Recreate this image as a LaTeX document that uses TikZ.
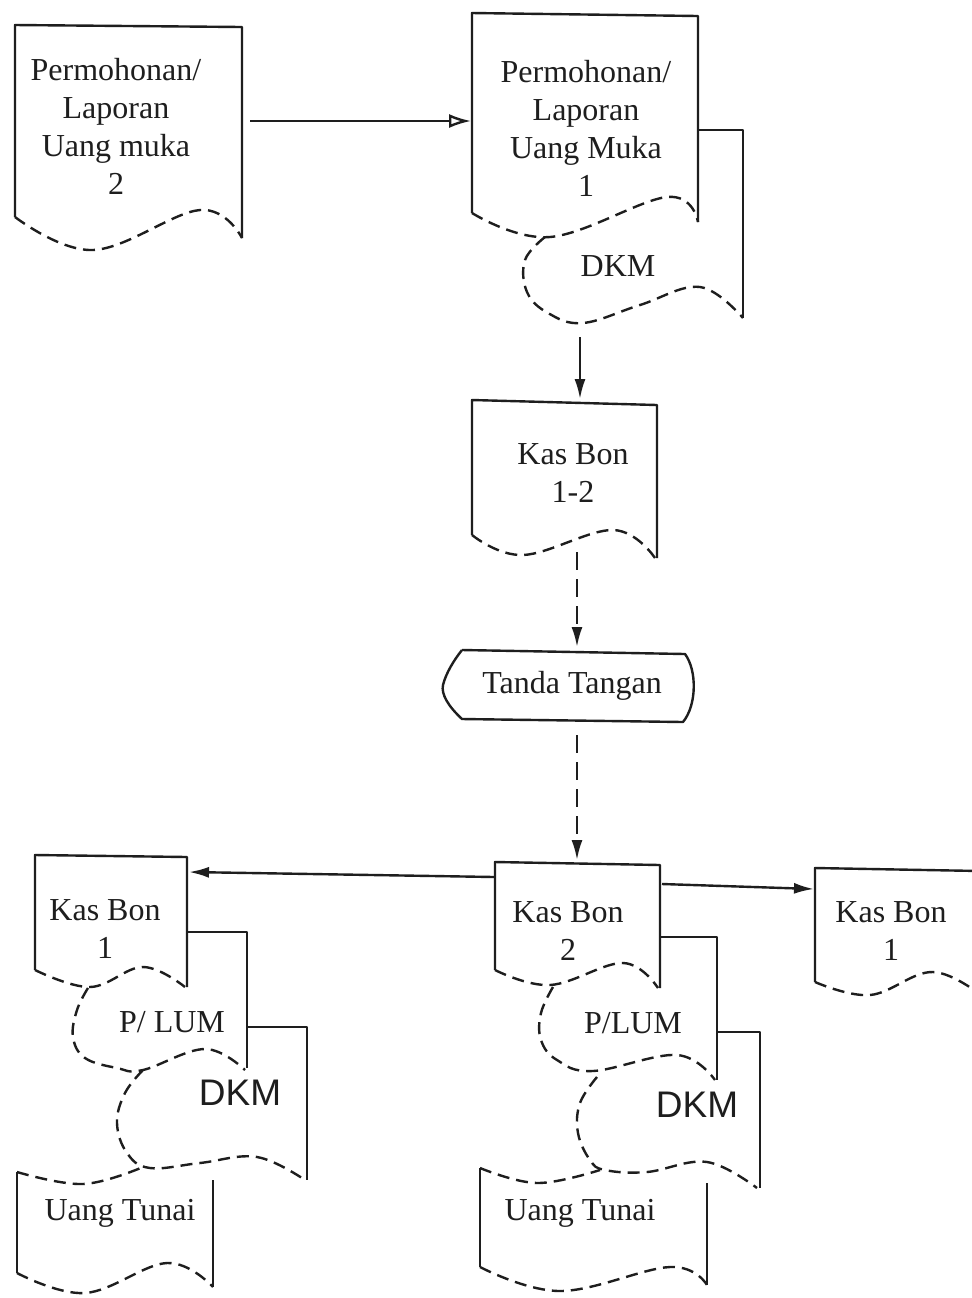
\documentclass[tikz,border=0pt]{standalone}
\usepackage{fontspec}
\setmainfont{Liberation Serif}
\newfontfamily\dkmfont{Liberation Sans}
\usetikzlibrary{arrows.meta}
\definecolor{ink}{RGB}{30,30,30}
\begin{document}
\begin{tikzpicture}[x=0.5pt,y=-0.5pt,
  ln/.style={line width=1.2pt, draw=ink, line join=round},
  dsh/.style={ln, dash pattern=on 6pt off 3.5pt},
  cdsh/.style={dash pattern=on 9pt off 4.5pt},
  txt/.style={font=\fontsize{16}{19}\selectfont, text=ink, align=center, inner sep=0pt},
  dkmtxt/.style={font=\dkmfont\fontsize{18.5}{20}\selectfont, text=ink, inner sep=0pt},
  arr/.style={ln, -{Latex[length=10pt,width=5.5pt]}},
  openarr/.style={ln, -{Latex[open,length=11pt,width=7pt]}},
  wv/.style={dsh, smooth, tension=0.65}
]
\useasboundingbox (0,0) rectangle (971,1298);
\fill[white] (0,0) rectangle (971,1298);

% ---------- Doc 1: Permohonan/Laporan Uang muka 2
\draw[ln] (15,217) -- (15,25) -- (242,27) -- (242,238);
\draw[wv] plot coordinates {(15,217) (93,250) (200,210) (242,238)};
\node[txt] (d1t) at (116,126) {Permohonan/\\Laporan\\Uang muka\\2};

% ---------- Doc 2: Permohonan/Laporan Uang Muka 1 with DKM behind
\draw[ln] (698,130) -- (743,130) -- (743,318);
\draw[wv] plot coordinates {(545,237) (525,260) (527,292) (548,313) (583,323) (640,305) (700,287) (743,318)};
\draw[ln] (472,213) -- (472,13) -- (698,16) -- (698,222);
\draw[wv] plot coordinates {(472,213) (550,237) (667,197) (698,222)};
\node[txt] (d2t) at (586,128) {Permohonan/\\Laporan\\Uang Muka\\1};
\node[txt] (dkmt) at (618,266) {DKM};

% ---------- Kas Bon 1-2
\draw[ln] (472,535) -- (472,400) -- (657,405) -- (657,558);
\draw[wv] plot coordinates {(472,535) (523,555) (613,530) (655,558)};
\node[txt] (kb12) at (573,473) {Kas Bon\\1-2};

% ---------- Tanda Tangan
\draw[ln] (462,650) -- (685,654) .. controls (697,670) and (697,705) .. (683,722)
  -- (462,719) .. controls (448,706) and (441,694) .. (443,685)
  .. controls (446,673) and (454,660) .. (462,650);
\node[txt] (tt) at (572,686) {Tanda Tangan};

% ---------- Bottom left group
\draw[ln] (187,932) -- (247,932) -- (247,1068);
\draw[ln] (247,1027) -- (307,1027) -- (307,1180);
\draw[ln] (35,970) -- (35,855) -- (187,857) -- (187,987);
\draw[wv] plot coordinates {(35,970) (90,987) (143,967) (185,987)};
\draw[wv] plot coordinates {(88,988) (77,1010) (73,1037) (85,1058) (117,1068) (143,1070) (205,1049) (245,1070)};
\draw[wv] plot coordinates {(143,1070) (125,1093) (117,1123) (127,1153) (150,1168) (200,1163) (257,1157) (305,1180)};
\draw[ln] (17,1172) -- (17,1273);
\draw[ln] (213,1180) -- (213,1287);
\draw[wv] plot coordinates {(17,1172) (83,1184) (143,1167)};
\draw[wv] plot coordinates {(17,1273) (85,1293) (167,1263) (213,1287)};
\node[txt] (kbl) at (105,929) {Kas Bon\\1};
\node[txt] (pluml) at (172,1022) {P/ LUM};
\node[dkmtxt] (dkml) at (240,1093) {DKM};
\node[txt] (utl) at (120,1213) {Uang Tunai};

% ---------- Bottom middle group
\draw[ln] (660,937) -- (717,937) -- (717,1080);
\draw[ln] (717,1032) -- (760,1032) -- (760,1188);
\draw[ln] (495,970) -- (495,862) -- (660,865) -- (660,988);
\draw[wv] plot coordinates {(495,970) (550,985) (623,963) (658,988)};
\draw[wv] plot coordinates {(553,987) (541,1013) (541,1040) (557,1060) (593,1071) (677,1055) (715,1080)};
\draw[wv] plot coordinates {(597,1077) (580,1103) (578,1133) (590,1160) (605,1170) (647,1172) (707,1162) (757,1188)};
\draw[ln] (480,1168) -- (480,1267);
\draw[ln] (707,1183) -- (707,1285);
\draw[wv] plot coordinates {(480,1168) (537,1183) (600,1170)};
\draw[wv] plot coordinates {(480,1267) (560,1291) (670,1267) (707,1285)};
\node[txt] (kbm) at (568,931) {Kas Bon\\2};
\node[txt] (plumm) at (633,1023) {P/LUM};
\node[dkmtxt] (dkmm) at (697,1105) {DKM};
\node[txt] (utm) at (580,1213) {Uang Tunai};

% ---------- Right Kas Bon 1
\draw[ln] (815,982) -- (815,868) -- (980,871);
\draw[wv] plot coordinates {(815,982) (870,995) (933,972) (985,998)};
\node[txt] (kbr) at (891,931) {Kas Bon\\1};

% ---------- connector ends
\coordinate (a1s) at (250,121);
\coordinate (a1e) at (471,121);
\coordinate (a2s) at (580,337);
\coordinate (a2e) at (580,399);
\coordinate (a3s) at (577,552);
\coordinate (a3e) at (577,647);
\coordinate (a4s) at (577,735);
\coordinate (a4e) at (577,860);
\coordinate (a5s) at (494,877);
\coordinate (a5e) at (189,872);
\coordinate (a6s) at (662,884);
\coordinate (a6e) at (814,889);

\draw[openarr] (a1s) -- (a1e);
\draw[arr] (a2s) -- (a2e);
\draw[arr, cdsh] (a3s) -- (a3e);
\draw[arr, cdsh] (a4s) -- (a4e);
\draw[arr] (a5s) -- (a5e);
\draw[arr] (a6s) -- (a6e);
\end{tikzpicture}
\end{document}
